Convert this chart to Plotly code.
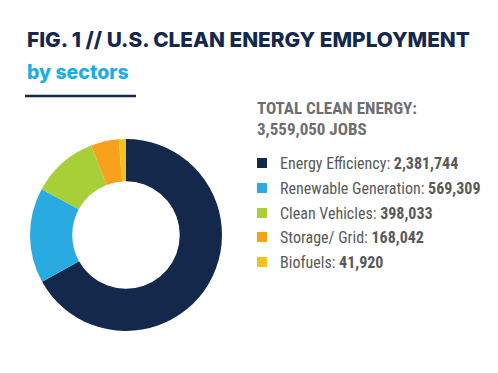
import plotly.graph_objects as go

W, H = 498, 373

sectors = ["Energy Efficiency", "Renewable Generation", "Clean Vehicles", "Storage/ Grid", "Biofuels"]
jobs = [2381744, 569309, 398033, 168042, 41920]
total_jobs = 3559050
colors = ["#13284b", "#29abe2", "#a9cf38", "#f7a11d", "#f2c31a"]

title_text = "FIG. 1 // U.S. CLEAN ENERGY EMPLOYMENT"
subtitle_text = "by sectors"

def px(x):
    return x / W

def py(y):
    return 1 - y / H

fig = go.Figure()
fig.add_trace(go.Pie(
    labels=sectors, values=jobs, hole=0.56, sort=False, direction="clockwise",
    rotation=0, marker=dict(colors=colors, line=dict(width=0)),
    textinfo="none", hoverinfo="label+value",
    domain=dict(x=[px(30), px(222)], y=[py(331), py(139)]),
    showlegend=False,
))

ann = []
ann.append(dict(text=title_text, x=px(25), y=py(40), xanchor="left", yanchor="middle",
                font=dict(family="Inter, Roboto, sans-serif", size=20.8, color="#13284b", weight=800)))
ann.append(dict(text=subtitle_text, x=px(25), y=py(72), xanchor="left", yanchor="middle",
                font=dict(family="Inter, Roboto, sans-serif", size=19.5, color="#1aaee5", weight=800)))

cond = "Roboto Condensed, DejaVu Sans Condensed, Liberation Sans Narrow, Roboto, sans-serif"
ann.append(dict(text="<b>TOTAL CLEAN ENERGY:</b>", x=px(255), y=py(108), xanchor="left", yanchor="middle",
                font=dict(family=cond, size=17, color="#6d6e71")))
ann.append(dict(text="<b>{:,} JOBS</b>".format(total_jobs), x=px(255), y=py(129), xanchor="left", yanchor="middle",
                font=dict(family=cond, size=17, color="#6d6e71")))

shapes = [dict(type="line", xref="paper", yref="paper", x0=px(25), x1=px(136), y0=py(96), y1=py(96),
               line=dict(color="#13284b", width=2.5))]

row_y = [163, 188, 213, 237, 262]
for i, (s, v, c) in enumerate(zip(sectors, jobs, colors)):
    yc = row_y[i]
    shapes.append(dict(type="rect", xref="paper", yref="paper", x0=px(257), x1=px(267),
                       y0=py(yc + 5), y1=py(yc - 5), fillcolor=c, line=dict(width=0)))
    ann.append(dict(text="{}: <b>{:,}</b>".format(s, v), x=px(278), y=py(yc), xanchor="left", yanchor="middle",
                    font=dict(family=cond, size=16, color="#58595b")))

for a in ann:
    a.update(xref="paper", yref="paper", showarrow=False)

fig.update_layout(width=W, height=H, margin=dict(l=0, r=0, t=0, b=0),
                  paper_bgcolor="white", plot_bgcolor="white",
                  annotations=ann, shapes=shapes)

fig.write_html("out.html", config={"displayModeBar": False},
               post_script="document.body.style.margin='0';document.body.style.padding='0';")
